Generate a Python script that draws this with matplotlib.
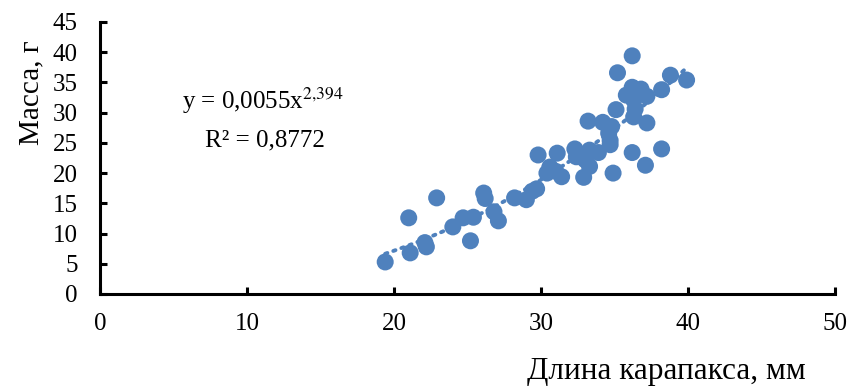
import numpy as np
import matplotlib
matplotlib.use('Agg')
import matplotlib.pyplot as plt

# Carapace length (mm) and mass (g)
length = [19.4, 21.1, 21.0, 22.2, 22.1, 22.9, 24.0, 24.7, 25.2, 25.4,
          26.1, 26.2, 26.8, 27.1, 28.2, 29.0, 29.4, 29.7, 29.8, 30.4,
          30.6, 31.0, 31.1, 31.4, 32.3, 32.4, 32.9, 33.0, 33.2, 33.3,
          33.3, 33.9, 34.2, 34.6, 34.7, 34.7, 34.8, 34.9, 35.1, 35.2,
          35.8, 36.2, 36.2, 36.3, 36.3, 36.4, 36.2, 36.8, 37.1, 37.2,
          37.2, 38.2, 38.2, 38.8, 39.9]
mass = [5.3, 6.8, 12.6, 7.8, 8.5, 15.9, 11.1, 12.6, 8.8, 12.7,
        16.7, 15.8, 13.6, 12.1, 15.9, 15.6, 17.0, 17.4, 23.0, 20.0,
        21.0, 20.3, 23.3, 19.4, 24.0, 22.7, 19.3, 22.2, 28.6, 23.8,
        21.1, 23.4, 28.4, 26.6, 25.4, 24.7, 27.7, 20.0, 30.5, 36.6,
        32.9, 39.4, 34.2, 32.1, 29.3, 30.6, 23.4, 33.9, 21.3, 32.7,
        28.3, 33.8, 24.0, 36.2, 35.4]

# power trend from the label: y = a * x^b
a, b = 0.0055, 2.394
r2 = '0,8772'

blue = '#4F81BD'
plt.rcParams['font.family'] = ['Liberation Serif', 'DejaVu Serif']
plt.rcParams['mathtext.fontset'] = 'stix'

fig = plt.figure(figsize=(8.53, 3.88), dpi=100)
ax = fig.add_axes([0.1172, 0.2423, 0.8618, 0.701])

xt = np.linspace(min(length), max(length), 100)
ax.plot(xt, a * xt ** b, linestyle=(0, (0.6, 1.6)), color=blue, lw=2.8,
        dash_capstyle='round', zorder=2)
ax.scatter(length, mass, s=150, color=blue, edgecolors='none', zorder=3)

ax.set_xlim(0, 50)
ax.set_ylim(0, 45)
ax.set_xticks(range(0, 51, 10))
ax.set_yticks(range(0, 46, 5))
for side in ['top', 'right']:
    ax.spines[side].set_visible(False)
for side in ['left', 'bottom']:
    ax.spines[side].set_linewidth(2.2)
ax.tick_params(direction='in', length=5, width=2.2, labelsize=18)
ax.tick_params(axis='x', pad=14)
ax.tick_params(axis='y', pad=16)

ax.set_xlabel('Длина карапакса, мм', fontsize=22.5)
ax.xaxis.set_label_coords(0.771, -0.232)
ax.set_ylabel('Масса, г', fontsize=21)
ax.yaxis.set_label_coords(-0.076, 0.74)

ax.text(0.222, 0.71, r'y = 0,0055x$^{2{,}394}$', transform=ax.transAxes,
        fontsize=18, ha='center', va='center')
ax.text(0.225, 0.565, 'R² = ' + r2, transform=ax.transAxes,
        fontsize=18, ha='center', va='center')

plt.savefig('out.png', dpi=100)
